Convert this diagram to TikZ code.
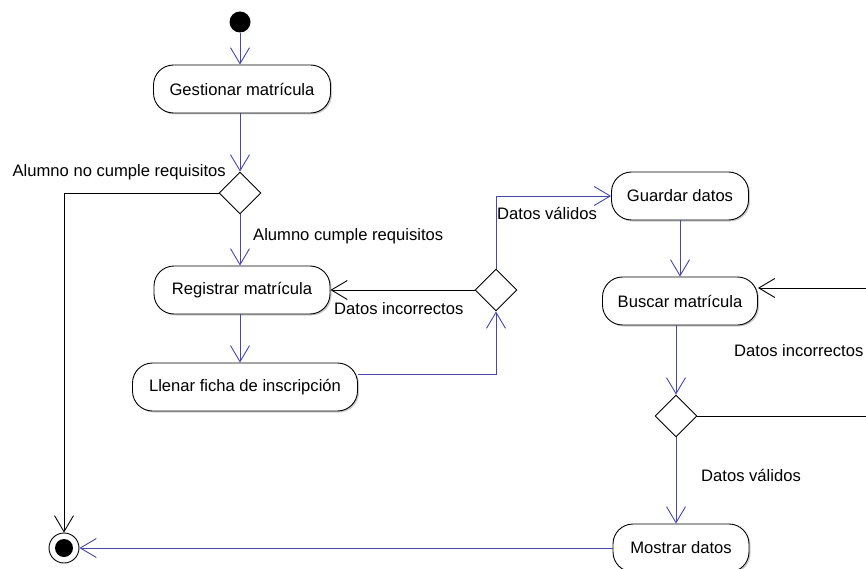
\documentclass[tikz,border=0pt]{standalone}
\usepackage{fontspec}
\setmainfont{Liberation Sans}
\usetikzlibrary{shapes.geometric,arrows.meta,shadows}
\definecolor{flujo}{RGB}{70,70,175}
\begin{document}
\begin{tikzpicture}[
    x=1pt, y=-1pt,
    font=\fontsize{16.6}{19}\selectfont,
    actividad/.style={rectangle, draw, line width=0.9pt, rounded corners=20pt, fill=white, minimum height=48pt, inner sep=0pt,
        drop shadow={shadow xshift=1.5pt, shadow yshift=-1.5pt, fill=black!40}},
    decision/.style={diamond, draw, line width=0.9pt, fill=white, minimum size=42pt, inner sep=0pt},
    flecha/.style={-{Straight Barb[length=16pt, width=19pt]}, line width=0.9pt},
    valido/.style={flecha, draw=flujo},
    rechazo/.style={flecha, draw=black},
    etiqueta/.style={inner sep=0pt}
]
    \useasboundingbox (0,0) rectangle (866,569);
    \clip (0,0) rectangle (866,569);

    \node[circle, fill=black, minimum size=21pt, inner sep=0pt] (inicio) at (240,22) {};
    \node[actividad, minimum width=177pt] (gestionar) at (242,89) {Gestionar matrícula};
    \node[decision] (dec1) at (240,193) {};
    \node[actividad, minimum width=176pt] (registrar) at (242,290) {Registrar matrícula};
    \node[actividad, minimum width=225pt] (llenar) at (245,387) {Llenar ficha de inscripción};
    \node[decision] (dec2) at (496,290) {};
    \node[actividad, minimum width=137pt] (guardar) at (680,196) {Guardar datos};
    \node[actividad, minimum width=155pt] (buscar) at (680,301) {Buscar matrícula};
    \node[decision] (dec3) at (676,416) {};
    \node[actividad, minimum width=136pt] (mostrar) at (681,548) {Mostrar datos};
    \node[circle, draw, line width=0.9pt, minimum size=30pt, inner sep=0pt,
        path picture={\fill (path picture bounding box.center) circle (9pt);}] (fin) at (64,548) {};
    \coordinate (vuelta) at (900,288);

    \node[etiqueta, anchor=east] (noCumple) at (226,172) {Alumno no cumple requisitos};
    \node[etiqueta, anchor=west] (cumple) at (253,236) {Alumno cumple requisitos};
    \node[etiqueta, anchor=west] (incorrectosA) at (334,309) {Datos incorrectos};
    \node[etiqueta, anchor=west] (validosA) at (497,213) {Datos válidos};
    \node[etiqueta, anchor=west] (incorrectosB) at (734,351) {Datos incorrectos};
    \node[etiqueta, anchor=west] (validosB) at (701,475) {Datos válidos};

    \draw[valido] (inicio) -- (inicio |- gestionar.north);
    \draw[valido] (gestionar.south -| dec1) -- (dec1.north);
    \draw[rechazo] (dec1.west) -| (fin.north);
    \draw[valido] (dec1.south) -- (dec1.south |- registrar.north);
    \draw[valido] (registrar.south -| dec1) -- (dec1 |- llenar.north);
    \draw[valido] ([yshift=13pt]llenar.east) -| (dec2.south);
    \draw[rechazo] (dec2.west) -- (registrar.east);
    \draw[valido] (dec2.north) |- (guardar.west);
    \draw[valido] (guardar.south) -- (buscar.north);
    \draw[valido] (buscar.south -| dec3) -- (dec3.north);
    \draw[rechazo] (dec3.east) -| (vuelta) -- (buscar.east |- vuelta);
    \draw[valido] (dec3.south) -- (mostrar.north -| dec3);
    \draw[valido] (mostrar.west) -- (fin.east);
\end{tikzpicture}
\end{document}
